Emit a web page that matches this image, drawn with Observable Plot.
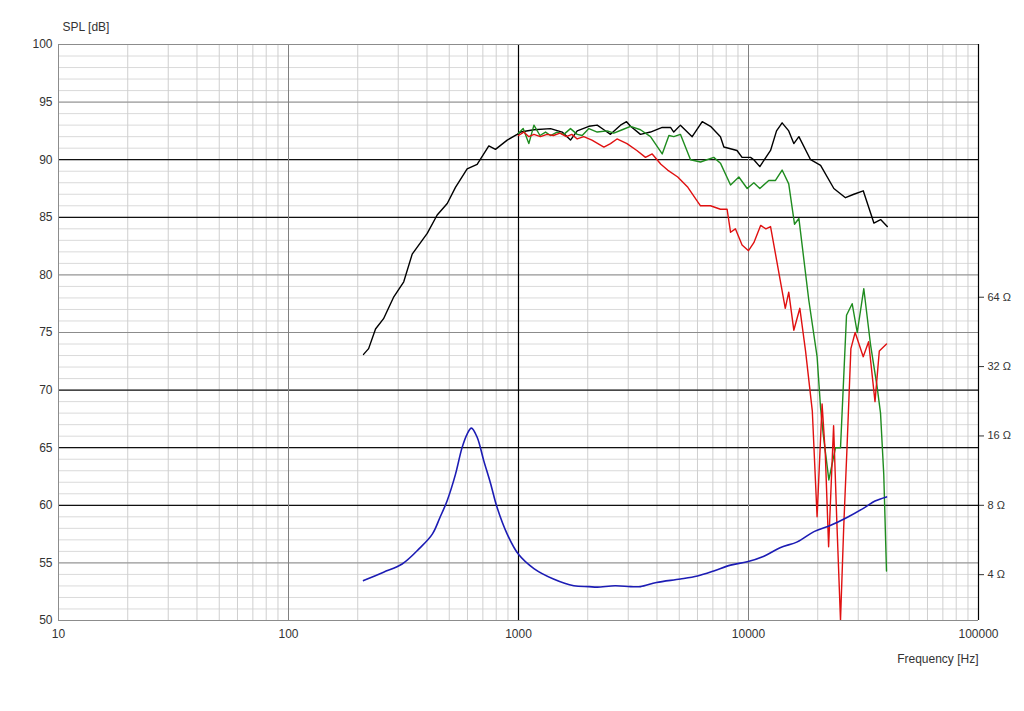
<!DOCTYPE html>
<html><head><meta charset="utf-8">
<script src="https://cdn.jsdelivr.net/npm/d3@7"></script>
<script src="https://cdn.jsdelivr.net/npm/@observablehq/plot@0.6"></script>
<style>body{margin:0;background:#fff} svg{display:block}</style>
</head><body><div id="chart"></div>
<script>
// ---- Axis ticks ----
const freqTicks = [10, 100, 1000, 10000, 100000];
const splTicks = [50, 55, 60, 65, 70, 75, 80, 85, 90, 95, 100];
const ohmTicks = [4, 8, 16, 32, 64];
const darkDbLines = [60, 65, 70, 85, 90];
const grayDbLines = [55, 75, 80, 95];

// ---- On-axis SPL (black) ----
const blackFreq = [212,223,239,259,287,317,345,401,443,490,532,598,661,743,794,893,987,1020,1167,1378,1549,1683,1800,2023,2199,2351,2512,2776,2950,3070,3390,3749,4215,4581,4733,5058,5690,6293,6835,7551,7813,8913,9376,10207,10550,11200,12470,13240,14000,14960,15740,16560,18620,20580,23500,26400,28710,31540,35090,37530,40120];
const blackDb = [73.1,73.6,75.3,76.2,78.1,79.4,81.8,83.6,85.2,86.2,87.6,89.2,89.6,91.2,90.9,91.7,92.2,92.4,92.6,92.7,92.4,91.7,92.5,92.9,93.0,92.6,92.2,93.0,93.3,92.9,92.2,92.4,92.8,92.8,92.4,93.0,92.0,93.3,92.9,92.0,91.1,90.8,90.2,90.2,90.0,89.4,90.8,92.5,93.2,92.5,91.4,92.0,90.0,89.5,87.5,86.7,87.0,87.3,84.5,84.8,84.2];

// ---- Off-axis SPL (green) ----
const greenFreq = [1000,1048,1109,1167,1240,1311,1378,1472,1574,1683,1800,1892,2023,2199,2431,2597,2824,3070,3390,3749,4215,4508,4733,5058,5597,6184,7063,7551,8356,9078,9870,10550,11200,12250,13100,14000,14960,15850,16560,18290,19870,20570,21120,22350,23900,25120,26680,28230,29700,31720,33900,36230,37500,38730,39810];
const greenDb = [92.3,92.7,91.4,93.0,92.1,92.4,92.1,92.4,92.2,92.7,92.2,92.1,92.7,92.4,92.5,92.3,92.6,92.9,92.6,92.0,90.5,92.1,92.0,92.2,90.0,89.8,90.2,89.7,87.8,88.5,87.5,88.0,87.5,88.2,88.2,89.1,87.9,84.4,84.9,77.8,72.9,68.5,66.2,62.2,65.0,65.0,76.5,77.5,75.0,78.8,74.0,70.3,68.0,62.7,54.3];

// ---- Off-axis SPL (red) ----
const redFreq = [1000,1055,1109,1167,1245,1330,1419,1514,1615,1705,1800,1921,2086,2351,2512,2681,2962,3270,3565,3813,4160,4450,4925,5449,6184,6835,7551,8072,8356,8770,9376,10000,10550,11300,11900,12470,14450,14960,15740,16720,17700,18940,19870,20890,21570,22300,23440,24200,25120,25940,26810,27870,29090,31540,33280,35480,37050,39810];
const redDb = [92.1,92.4,92.0,92.2,92.0,92.2,92.1,92.3,92.0,92.2,91.8,92.0,91.7,91.1,91.4,91.8,91.4,90.8,90.2,90.5,89.6,89.1,88.5,87.6,86.0,86.0,85.7,85.7,83.7,84.0,82.6,82.1,82.8,84.3,84.0,84.2,77.1,78.5,75.2,77.1,73.4,68.2,59.0,68.8,64.5,56.4,66.9,58.7,50.0,58.1,65.0,73.6,75.0,72.9,74.2,69.0,73.4,74.0];

// ---- Impedance (blue), in ohms ----
const impFreq = [212,259,312,371,422,456,490,532,568,598,624,661,706,755,808,893,1000,1167,1419,1740,2023,2199,2630,3070,3390,3980,5058,6000,7063,8356,9870,11600,13800,16300,19260,22780,26930,31830,35480,39810];
const impOhm = [3.77,4.1,4.45,5.2,6.0,7.1,8.4,10.9,14.2,16.3,17.3,15.8,12.5,10.0,7.8,6.0,4.9,4.25,3.83,3.58,3.55,3.53,3.58,3.55,3.55,3.7,3.83,3.95,4.15,4.4,4.55,4.8,5.25,5.55,6.15,6.55,7.1,7.8,8.35,8.7];

// impedance scale: 8 Ω sits at 60 dB, 6.02 dB per doubling
const ohmToDb = z => 60 + 20 * Math.log10(z / 8);
const dbToOhm = d => 8 * Math.pow(10, (d - 60) / 20);

const zip = (fs, vs) => fs.map((f, i) => ({f, v: vs[i]}));
const black = zip(blackFreq, blackDb);
const green = zip(greenFreq, greenDb);
const red = zip(redFreq, redDb);
const imp = impFreq.map((f, i) => ({f, v: ohmToDb(impOhm[i])}));

// grid lines
const minorDb = d3.range(50, 101, 1);
const minorFreq = [];
for (const dec of [10, 100, 1000, 10000]) for (let k = 2; k <= 9; k++) minorFreq.push(dec * k);

const font = "'Liberation Sans', Arial, sans-serif";

const chart = Plot.plot({
  width: 1024,
  height: 711,
  marginLeft: 58,
  marginRight: 46,
  marginTop: 44,
  marginBottom: 91,
  style: {fontFamily: font, fontSize: "12px", color: "#333", background: "#fff"},
  x: {type: "log", domain: [10, 100000]},
  y: {domain: [50, 100]},
  marks: [
    Plot.ruleY(minorDb, {stroke: "#dadada", strokeWidth: 1}),
    Plot.ruleX(minorFreq, {stroke: "#cfcfcf", strokeWidth: 1}),
    Plot.ruleY(grayDbLines, {stroke: "#8c8c8c", strokeWidth: 1}),
    Plot.ruleY(darkDbLines, {stroke: "#111", strokeWidth: 1.2}),
    Plot.ruleX([100, 10000], {stroke: "#808080", strokeWidth: 1}),
    Plot.ruleX([1000], {stroke: "#000", strokeWidth: 1.2}),
    Plot.ruleY([50, 100], {stroke: "#8c8c8c", strokeWidth: 1}),
    Plot.ruleX([10], {stroke: "#8c8c8c", strokeWidth: 1}),
    Plot.ruleX([100000], {stroke: "#000", strokeWidth: 1.2}),
    Plot.axisX({ticks: freqTicks, tickSize: 0, tickPadding: 9, tickFormat: d => String(d), label: null, fontSize: 12}),
    Plot.axisY({ticks: splTicks, tickSize: 0, tickPadding: 6, label: null, fontSize: 12}),
    Plot.axisY({anchor: "right", ticks: ohmTicks.map(ohmToDb), tickSize: 5, tickPadding: 4,
      tickFormat: d => Math.round(dbToOhm(d)) + " Ω", label: null, fontSize: 11}),
    Plot.line(black, {x: "f", y: "v", stroke: "#000", strokeWidth: 1.4, clip: true}),
    Plot.line(green, {x: "f", y: "v", stroke: "#1f8c1f", strokeWidth: 1.4, clip: true}),
    Plot.line(red, {x: "f", y: "v", stroke: "#e01010", strokeWidth: 1.4, clip: true}),
    Plot.line(imp, {x: "f", y: "v", stroke: "#1c1cb4", strokeWidth: 1.6, curve: "catmull-rom", clip: true}),
    Plot.text(["SPL [dB]"], {frameAnchor: "top-left", dx: 4, dy: -22, textAnchor: "start", fontSize: 12, fill: "#333"}),
    Plot.text(["Frequency [Hz]"], {frameAnchor: "bottom-right", dx: 0, dy: 42, textAnchor: "end", fontSize: 12, fill: "#333"})
  ]
});
document.getElementById("chart").appendChild(chart);
</script>
</body></html>
